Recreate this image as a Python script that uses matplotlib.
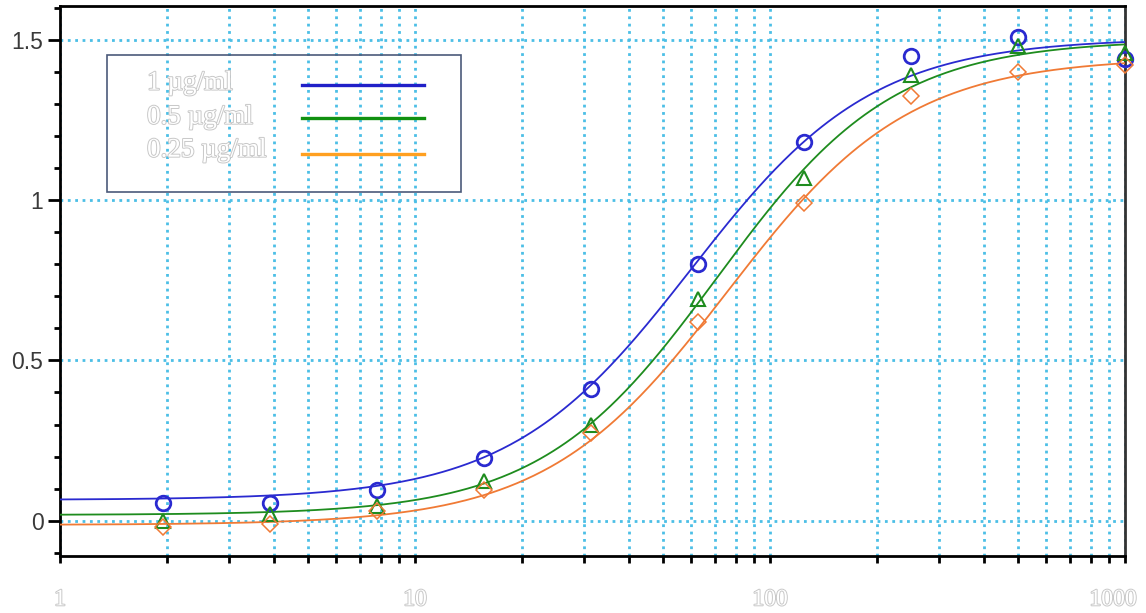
import numpy as np
import matplotlib
matplotlib.use("Agg")
import matplotlib.pyplot as plt
import matplotlib.patheffects as pe
from matplotlib.ticker import MultipleLocator, LogLocator, NullFormatter
from matplotlib.patches import Rectangle
from matplotlib.transforms import ScaledTranslation

# dilution series (x) and measured absorbance for each concentration
conc = [1.953125, 3.90625, 7.8125, 15.625, 31.25, 62.5, 125, 250, 500, 1000]
od_1 = [0.055, 0.055, 0.095, 0.195, 0.41, 0.80, 1.18, 1.45, 1.51, 1.44]
od_05 = [0.0, 0.02, 0.045, 0.125, 0.30, 0.69, 1.07, 1.39, 1.48, 1.46]
od_025 = [-0.02, -0.01, 0.03, 0.095, 0.275, 0.62, 0.99, 1.325, 1.40, 1.42]

labels = ["1 µg/ml", "0.5 µg/ml", "0.25 µg/ml"]

# 4PL fit parameters
fit_bottom = [0.065, 0.018, -0.013]
fit_top = [1.505, 1.50, 1.445]
fit_ec50 = [60, 71, 76]
fit_hill = [1.7, 1.75, 1.7]

line_cols = ["#2a2ad0", "#1e8c1e", "#f07a35"]
leg_cols = ["#2020c8", "#109010", "#ffa020"]
markers = ["o", "^", "D"]
msizes = [10.5, 10.5, 8]
mews = [2.0, 1.5, 1.1]
grid_col = "#4cbfe6"

fig = plt.figure(figsize=(11.46, 6.13), dpi=100)
ax = fig.add_axes([0.0524, 0.093, 0.9293, 0.897])

xs = np.logspace(0, 3, 500)
series = [od_1, od_05, od_025]
for i, ys in enumerate(series):
    b, t, c, h = fit_bottom[i], fit_top[i], fit_ec50[i], fit_hill[i]
    curve = b + (t - b) / (1 + (c / xs) ** h)
    ax.plot(xs, curve, color=line_cols[i], lw=1.3, zorder=3)
    ax.plot(conc, ys, linestyle="none", marker=markers[i], ms=msizes[i],
            mfc="none", mec=line_cols[i], mew=mews[i], clip_on=False, zorder=4)

ax.set_xscale("log")
ax.set_xlim(1, 1000)
ax.set_ylim(-0.11, 1.605)

ax.xaxis.set_minor_locator(LogLocator(base=10, subs=np.arange(2, 10)))
ax.xaxis.set_minor_formatter(NullFormatter())
ax.set_xticks([1, 10, 100, 1000], labels=["1", "10", "100", "1000"])
ax.set_yticks([0, 0.5, 1, 1.5], labels=["0", "0.5", "1", "1.5"])
ax.yaxis.set_minor_locator(MultipleLocator(0.1))

ax.grid(which="both", axis="x", color=grid_col, linestyle=":", lw=2.0)
ax.grid(which="major", axis="y", color=grid_col, linestyle=":", lw=2.0)
ax.set_axisbelow(True)

ax.tick_params(axis="x", which="both", direction="out", length=5, width=2,
               color="black", pad=19, labelsize=17, labelcolor="white")
ax.tick_params(axis="y", which="major", direction="out", length=9, width=2,
               color="black", pad=3, labelsize=16.5, labelcolor="#3a3a3a")
ax.tick_params(axis="y", which="minor", direction="out", length=4, width=2,
               color="black")
for lbl in ax.get_xticklabels():
    lbl.set_fontfamily("Liberation Serif")
    lbl.set_path_effects([pe.withStroke(linewidth=1.4, foreground="#c8c8c8")])
# last label sits a little inside the right edge
last = ax.get_xticklabels()[-1]
last.set_transform(last.get_transform() + ScaledTranslation(-0.12, 0, fig.dpi_scale_trans))
for lbl in ax.get_yticklabels():
    lbl.set_fontfamily("Liberation Sans")

for side in ["left", "bottom", "top"]:
    ax.spines[side].set_linewidth(2)
    ax.spines[side].set_color("black")
ax.spines["right"].set_linewidth(2)
ax.spines["right"].set_color("#333333")

# hand-made legend box
ax.add_patch(Rectangle((0.0441, 0.6618), 0.3324, 0.2491, transform=ax.transAxes,
                       fill=False, edgecolor="#4b5a7a", lw=1.2, zorder=5))
text_y = [0.860, 0.798, 0.738]
line_y = [0.856, 0.796, 0.731]
for i in range(3):
    ax.text(0.0817, text_y[i], labels[i], transform=ax.transAxes, color="white",
            fontsize=19.5, family="Liberation Serif", va="center", ha="left", zorder=6,
            path_effects=[pe.withStroke(linewidth=1.4, foreground="#c8c8c8")])
    ax.plot([0.227, 0.342], [line_y[i], line_y[i]], transform=ax.transAxes,
            color=leg_cols[i], lw=2.4, zorder=6)

fig.savefig("out.png", dpi=100, facecolor="white")
